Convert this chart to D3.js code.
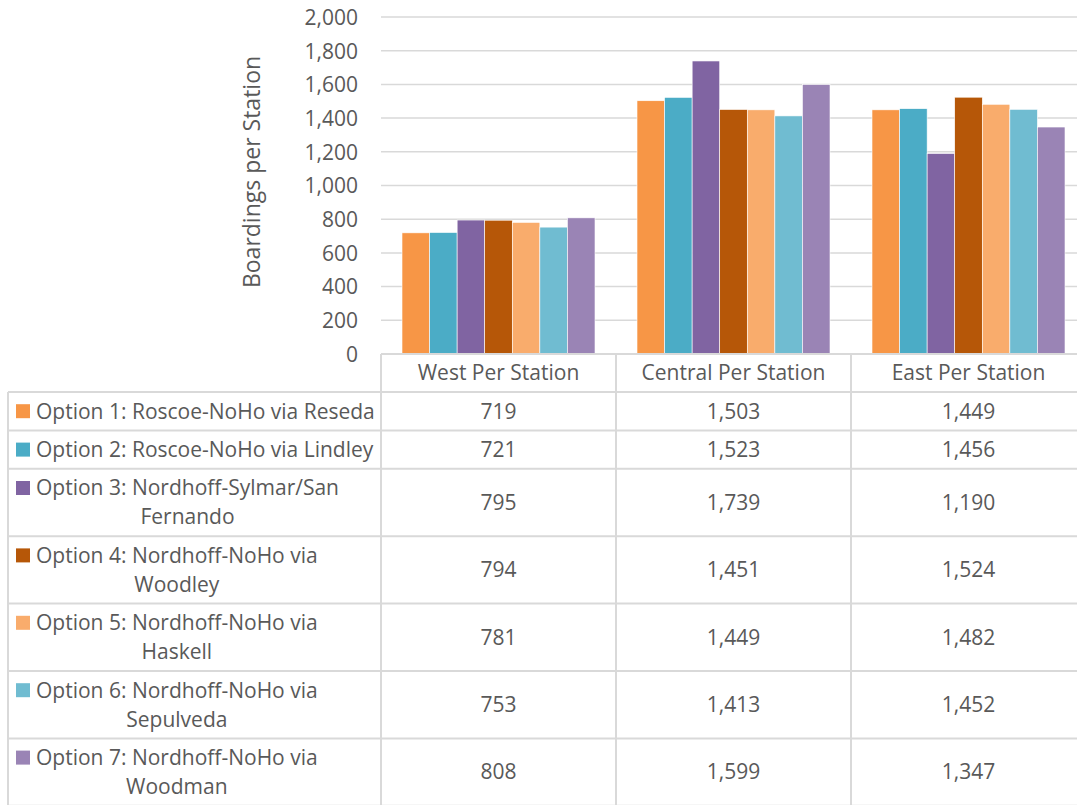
<!DOCTYPE html>
<html>
<head>
<meta charset="utf-8">
<script src="https://cdn.jsdelivr.net/npm/d3@7/dist/d3.min.js"></script>
<style>
  html, body { margin: 0; padding: 0; background: #fff; }
  svg { display: block; font-family: "Open Sans", sans-serif; }
</style>
</head>
<body>
<svg id="chart" width="1077" height="805"></svg>
<script>
// Regions shown as categories along the x axis
const categories = ["West Per Station", "Central Per Station", "East Per Station"];

// Route options (series), wrapped into lines as shown in the data table
const seriesNames = [
  ["Option 1: Roscoe-NoHo via Reseda"],
  ["Option 2: Roscoe-NoHo via Lindley"],
  ["Option 3: Nordhoff-Sylmar/San", "Fernando"],
  ["Option 4: Nordhoff-NoHo via", "Woodley"],
  ["Option 5: Nordhoff-NoHo via", "Haskell"],
  ["Option 6: Nordhoff-NoHo via", "Sepulveda"],
  ["Option 7: Nordhoff-NoHo via", "Woodman"]
];

// Boardings per station, one array per option: [West, Central, East]
const option1 = [719, 1503, 1449];
const option2 = [721, 1523, 1456];
const option3 = [795, 1739, 1190];
const option4 = [794, 1451, 1524];
const option5 = [781, 1449, 1482];
const option6 = [753, 1413, 1452];
const option7 = [808, 1599, 1347];
const seriesValues = [option1, option2, option3, option4, option5, option6, option7];

const seriesColors = ["#F79646", "#4BACC6", "#8064A2", "#B65708", "#F9AC6C", "#70BCD1", "#9A84B5"];

const yTicks = [0, 200, 400, 600, 800, 1000, 1200, 1400, 1600, 1800, 2000];
const yTitle = "Boardings per Station";

// ---- layout ----
const svg = d3.select("#chart");
const textColor = "#595959";
const lineColor = "#D9D9D9";
const plotLeft = 381, plotRight = 1086;
const plotTop = 17, plotBottom = 354;
const tableLeft = 8;
const headerBottom = 392;
const singleRow = 38.4, doubleRow = 67.4;
const fs = 21;

const fmt = d3.format(",");

const x0 = d3.scaleBand().domain(categories).range([plotLeft, plotRight]).paddingInner(0).paddingOuter(0);
const groupPad = 21;
const x1 = d3.scaleBand().domain(d3.range(seriesValues.length))
  .range([groupPad, x0.bandwidth() - groupPad]).padding(0);
const y = d3.scaleLinear().domain([0, 2000]).range([plotBottom, plotTop]);

// gridlines
svg.append("g")
  .selectAll("line").data(yTicks).join("line")
  .attr("x1", plotLeft).attr("x2", plotRight)
  .attr("y1", d => y(d)).attr("y2", d => y(d))
  .attr("stroke", lineColor).attr("stroke-width", 1.5);

// y axis labels
const yAxis = d3.axisLeft(y).tickValues(yTicks).tickFormat(fmt).tickSize(0).tickPadding(0);
const yg = svg.append("g").attr("transform", `translate(358,0)`).call(yAxis);
yg.select(".domain").remove();
yg.selectAll("text").attr("fill", textColor).style("font-size", fs + "px")
  .style("font-family", '"Open Sans", sans-serif').attr("dy", "0.35em");

// y axis title
svg.append("text")
  .attr("transform", `translate(252,172) rotate(-90)`)
  .attr("text-anchor", "middle").attr("dy", "0.35em")
  .attr("fill", textColor).style("font-size", "23px")
  .text(yTitle);

// bars
const groups = svg.append("g").selectAll("g").data(categories).join("g")
  .attr("transform", d => `translate(${x0(d)},0)`);
groups.selectAll("rect")
  .data((c, ci) => seriesValues.map((vals, si) => ({ si, v: vals[ci] })))
  .join("rect")
  .attr("x", d => x1(d.si))
  .attr("width", x1.bandwidth())
  .attr("y", d => y(d.v))
  .attr("height", d => y(0) - y(d.v))
  .attr("fill", d => seriesColors[d.si])
  .attr("stroke", "#fff").attr("stroke-width", 0.6);

// ---- data table ----
const rowHeights = seriesNames.map(n => n.length > 1 ? doubleRow : singleRow);
const rowTops = [];
let acc = headerBottom;
rowHeights.forEach(h => { rowTops.push(acc); acc += h; });
const tableBottom = acc;

const tbl = svg.append("g");
// header row: category names under the axis
tbl.selectAll("text.cat").data(categories).join("text")
  .attr("class", "cat")
  .attr("x", d => x0(d) + x0.bandwidth() / 2)
  .attr("y", (plotBottom + headerBottom) / 2)
  .attr("dy", "0.35em").attr("text-anchor", "middle")
  .attr("fill", textColor).style("font-size", fs + "px")
  .text(d => d);

// horizontal rules
const hLines = rowTops.concat([tableBottom]);
tbl.selectAll("line.h").data(hLines).join("line")
  .attr("class", "h")
  .attr("x1", tableLeft).attr("x2", plotRight)
  .attr("y1", d => d).attr("y2", d => d)
  .attr("stroke", lineColor).attr("stroke-width", 2);
// axis line along the top of the header row
tbl.append("line").attr("x1", plotLeft).attr("x2", plotRight)
  .attr("y1", plotBottom).attr("y2", plotBottom)
  .attr("stroke", lineColor).attr("stroke-width", 2);
// vertical rules
const vx = categories.map(c => x0(c)).concat([plotRight]);
tbl.selectAll("line.v").data(vx).join("line")
  .attr("class", "v")
  .attr("x1", d => d).attr("x2", d => d)
  .attr("y1", plotBottom).attr("y2", tableBottom)
  .attr("stroke", lineColor).attr("stroke-width", 2);
tbl.append("line").attr("x1", tableLeft).attr("x2", tableLeft)
  .attr("y1", headerBottom).attr("y2", tableBottom)
  .attr("stroke", lineColor).attr("stroke-width", 2);

// rows: legend key + values
const lineGap = 29;
const rows = tbl.selectAll("g.row").data(seriesNames).join("g")
  .attr("class", "row")
  .attr("transform", (d, i) => `translate(0,${rowTops[i] + rowHeights[i] / 2})`);

rows.each(function (lines, i) {
  const g = d3.select(this);
  const firstY = -(lines.length - 1) * lineGap / 2;
  g.append("rect")
    .attr("x", 16).attr("y", firstY - 7).attr("width", 14).attr("height", 14)
    .attr("fill", seriesColors[i]);
  const t1 = g.append("text")
    .attr("x", 36).attr("y", firstY).attr("dy", "0.35em")
    .attr("fill", textColor).style("font-size", fs + "px")
    .text(lines[0]);
  if (lines.length > 1) {
    const w = t1.node().getComputedTextLength();
    g.append("text")
      .attr("x", 36 + w / 2).attr("y", firstY + lineGap).attr("dy", "0.35em")
      .attr("text-anchor", "middle")
      .attr("fill", textColor).style("font-size", fs + "px")
      .text(lines[1]);
  }
  g.selectAll("text.val").data(seriesValues[i]).join("text")
    .attr("class", "val")
    .attr("x", (v, ci) => x0(categories[ci]) + x0.bandwidth() / 2)
    .attr("y", 0).attr("dy", "0.35em").attr("text-anchor", "middle")
    .attr("fill", textColor).style("font-size", fs + "px")
    .text(v => fmt(v));
});
</script>
</body>
</html>
